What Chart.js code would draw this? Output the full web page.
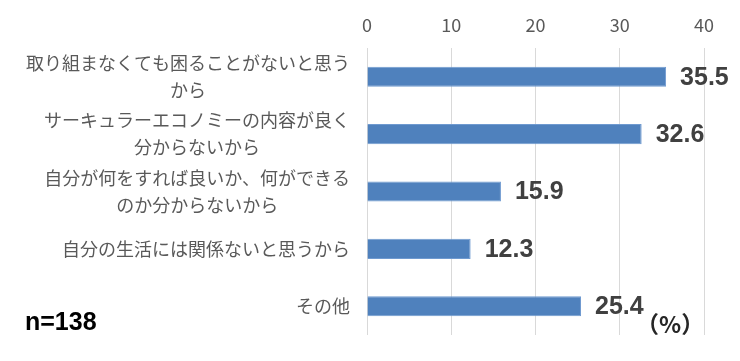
<!DOCTYPE html>
<html>
<head>
<meta charset="utf-8">
<script src="https://cdn.jsdelivr.net/npm/chart.js@4.4.1/dist/chart.umd.min.js"></script>
<style>
  html, body { margin: 0; padding: 0; background: #fff; }
  #wrap { width: 740px; height: 361px; }
</style>
</head>
<body>
<div id="wrap"><canvas id="chart" width="740" height="361"></canvas></div>
<script>
// reasons (multi-line labels as drawn on the left)
const categories = [
    ['取り組まなくても困ることがないと思う', 'から'],
    ['サーキュラーエコノミーの内容が良く', '分からないから'],
    ['自分が何をすれば良いか、何ができる', 'のか分からないから'],
    ['自分の生活には関係ないと思うから'],
    ['その他']
];
const values = [35.5, 32.6, 15.9, 12.3, 25.4];
const xTickValues = [0, 10, 20, 30, 40];
const sampleNote = 'n=138';
const unitNote = '（%）';

const labelFont = '18px "Noto Sans CJK JP", "Noto Sans", sans-serif';

// category labels: each block right-aligned, lines centered inside the block
const categoryLabels = {
    id: 'categoryLabels',
    afterDraw(chart) {
        const ctx = chart.ctx;
        const yScale = chart.scales.y;
        const right = 350;
        const lineHeight = 27;
        ctx.save();
        ctx.font = labelFont;
        ctx.fillStyle = '#595959';
        ctx.textAlign = 'center';
        ctx.textBaseline = 'middle';
        categories.forEach((lines, i) => {
            const widest = Math.max(...lines.map(l => ctx.measureText(l).width));
            const cx = right - widest / 2;
            const cy = yScale.getPixelForValue(i);
            const startY = cy - (lines.length - 1) * lineHeight / 2;
            lines.forEach((line, j) => {
                ctx.fillText(line, cx, startY + j * lineHeight);
            });
        });
        ctx.restore();
    }
};

// value labels at the bar ends, plus the n= and unit notes
const valueLabels = {
    id: 'valueLabels',
    afterDatasetsDraw(chart) {
        const ctx = chart.ctx;
        const meta = chart.getDatasetMeta(0);
        ctx.save();
        ctx.font = 'bold 25px "Liberation Sans", Arial, sans-serif';
        ctx.fillStyle = '#404040';
        ctx.textAlign = 'left';
        ctx.textBaseline = 'middle';
        meta.data.forEach((bar, i) => {
            ctx.fillText(values[i].toFixed(1), bar.x + 14, bar.y + 1);
        });

        ctx.fillStyle = '#000';
        ctx.font = 'bold 25px "Liberation Sans", Arial, sans-serif';
        ctx.fillText(sampleNote, 25, 323);

        ctx.fillStyle = '#262626';
        ctx.font = 'bold 23px "Noto Sans CJK JP", sans-serif';
        ctx.fillText(unitNote, 636, 324);
        ctx.restore();
    }
};

const ctx = document.querySelector('#chart').getContext('2d');
new Chart(ctx, {
    type: 'bar',
    data: {
        labels: categories,
        datasets: [{
            data: values,
            backgroundColor: '#4f81bd',
            borderColor: '#6f9ad0',
            borderWidth: 1,
            barPercentage: 0.35,
            categoryPercentage: 1
        }]
    },
    options: {
        indexAxis: 'y',
        responsive: false,
        animation: false,
        layout: { padding: { top: 0, right: 36, bottom: 26, left: 0 } },
        plugins: {
            legend: { display: false },
            tooltip: { enabled: false }
        },
        scales: {
            x: {
                position: 'top',
                min: xTickValues[0],
                max: xTickValues[xTickValues.length - 1],
                afterBuildTicks(scale) {
                    scale.ticks = xTickValues.map(v => ({ value: v }));
                },
                afterFit(scale) { scale.height = 48; },
                grid: { color: '#d9d9d9', lineWidth: 1, drawTicks: false },
                border: { display: false },
                ticks: {
                    color: '#595959',
                    padding: 12,
                    font: { family: '"Noto Sans CJK JP", "Noto Sans", sans-serif', size: 18 }
                }
            },
            y: {
                afterFit(scale) { scale.width = 367; },
                grid: { display: false },
                border: { display: false },
                ticks: { display: false }
            }
        }
    },
    plugins: [categoryLabels, valueLabels]
});
</script>
</body>
</html>
